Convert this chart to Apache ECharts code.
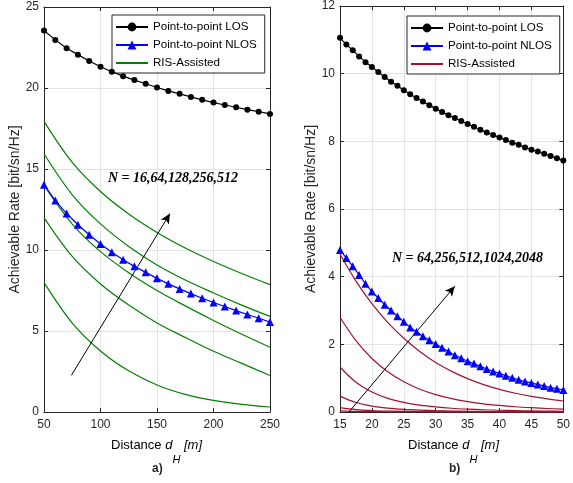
<!DOCTYPE html>
<html>
<head>
<meta charset="utf-8">
<script src="https://cdn.jsdelivr.net/npm/echarts@6/dist/echarts.min.js"></script>
<style>html,body{margin:0;padding:0;background:#fff}#c{width:573px;height:483px}</style>
</head>
<body>
<div id="c"></div>
<script>
// ---------- data: panel a) ----------
const aX = [50,60,70,80,90,100,110,120,130,140,150,160,170,180,190,200,210,220,230,240,250];
const aLOS = [23.55,22.97,22.45,22.06,21.67,21.31,21.0,20.73,20.49,20.26,20.03,19.82,19.64,19.45,19.27,19.10,18.95,18.81,18.66,18.54,18.40];
const aNLOS = [14.03,13.05,12.25,11.56,10.94,10.37,9.86,9.40,8.99,8.62,8.25,7.91,7.60,7.31,7.02,6.76,6.51,6.26,6.02,5.79,5.55];
const aRisX = [50,75,100,125,150,175,200,225,250];
const aRisN16  = [8.0,5.49,3.77,2.54,1.67,1.09,0.72,0.47,0.31];
const aRisN64  = [12.0,9.6,7.9,6.6,5.5,4.6,3.75,3.0,2.25];
const aRisN128 = [14.0,11.6,9.9,8.6,7.5,6.55,5.65,4.8,4.0];
const aRisN256 = [15.94,13.41,11.61,10.22,9.08,8.15,7.35,6.6,5.9];
const aRisN512 = [17.94,15.41,13.61,12.22,11.08,10.12,9.29,8.55,7.86];
const aXTicks = [50,250,50];   // min, max, interval
const aYTicks = [0,25,5];

// ---------- data: panel b) ----------
const bX = [15,16,17,18,19,20,21,22,23,24,25,26,27,28,29,30,31,32,33,34,35,36,37,38,39,40,41,42,43,44,45,46,47,48,49,50];
const bLOS = [11.06,10.86,10.69,10.51,10.34,10.20,10.05,9.90,9.76,9.64,9.51,9.39,9.28,9.18,9.07,8.96,8.87,8.77,8.69,8.60,8.51,8.43,8.34,8.26,8.19,8.11,8.04,7.96,7.90,7.82,7.75,7.70,7.63,7.57,7.50,7.43];
const bNLOS = [4.79,4.55,4.31,4.05,3.79,3.56,3.37,3.17,3.00,2.83,2.67,2.50,2.37,2.24,2.12,2.01,1.90,1.79,1.68,1.59,1.50,1.43,1.35,1.27,1.20,1.14,1.07,1.01,0.95,0.90,0.86,0.81,0.77,0.72,0.69,0.65];
const bRisX = [15,17.5,20,22.5,25,27.5,30,32.5,35,37.5,40,42.5,45,47.5,50];
const bRisN2048 = [4.67,3.87,3.20,2.64,2.18,1.79,1.46,1.20,0.985,0.810,0.669,0.554,0.462,0.386,0.325];
const bRisN1024 = [2.80,2.11,1.58,1.187,0.892,0.674,0.514,0.396,0.309,0.242,0.193,0.155,0.127,0.104,0.086];
const bRisN512  = [1.33,0.880,0.591,0.404,0.283,0.202,0.149,0.111,0.085,0.066,0.052,0.041,0.033,0.027,0.022];
const bRisN256  = [0.47,0.280,0.175,0.114,0.078,0.055,0.039,0.029,0.022,0.017,0.013,0.011,0.0085,0.0069,0.0057];
const bRisN128  = [0.13,0.073,0.045,0.029,0.019,0.0135,0.0097,0.0071,0.0054,0.0042,0.0033,0.0026,0.0021,0.0017,0.0014];
const bRisN64   = [0.035,0.019,0.0116,0.0074,0.005,0.0035,0.0025,0.0019,0.0014,0.0011,0.0008,0.0007,0.0005,0.0004,0.0004];
const bXTicks = [15,50,5];
const bYTicks = [0,12,2];

const zip = (xs, ys) => xs.map((x, i) => [x, ys[i]]);
const FONT = 'Arial, "Liberation Sans", Helvetica, sans-serif';
const AX = '#262626';
const GRIDC = '#e3e3e3';

function xAxes(gridIndex, t) {
  const base = {
    type: 'value', gridIndex, min: t[0], max: t[1], interval: t[2],
    axisLine: {show: true, onZero: false, lineStyle: {color: AX, width: 1}},
    axisTick: {show: true, inside: true, length: 4, lineStyle: {color: AX}},
  };
  return [
    Object.assign({}, base, {position: 'bottom',
      axisLabel: {color: AX, fontSize: 12, fontFamily: FONT, margin: 7},
      splitLine: {show: true, lineStyle: {color: GRIDC, width: 1}}}),
    Object.assign({}, base, {position: 'top', axisLabel: {show: false}, splitLine: {show: false}})
  ];
}
function yAxes(gridIndex, t) {
  const base = {
    type: 'value', gridIndex, min: t[0], max: t[1], interval: t[2],
    axisLine: {show: true, onZero: false, lineStyle: {color: AX, width: 1}},
    axisTick: {show: true, inside: true, length: 4, lineStyle: {color: AX}},
  };
  return [
    Object.assign({}, base, {position: 'left',
      name: 'Achievable Rate [bit/sn/Hz]', nameLocation: 'middle', nameGap: 21,
      nameTextStyle: {color: AX, fontSize: 14, fontFamily: FONT},
      axisLabel: {color: AX, fontSize: 12, fontFamily: FONT, margin: 5},
      splitLine: {show: true, lineStyle: {color: GRIDC, width: 1}}}),
    Object.assign({}, base, {position: 'right', axisLabel: {show: false}, splitLine: {show: false}})
  ];
}

function risSeries(name, xi, yi, xs, ys, color) {
  return {name, type: 'line', xAxisIndex: xi, yAxisIndex: yi, data: zip(xs, ys),
    symbol: 'none', smooth: 0.35, color,
    lineStyle: {color, width: 1.2}, z: 3};
}

const GREEN = '#008000', RED = '#a2142f', BLUE = '#0000ff';

const series = [
  {name: 'Point-to-point LOS', type: 'line', xAxisIndex: 0, yAxisIndex: 0, data: zip(aX, aLOS),
   symbol: 'circle', symbolSize: 6, color: '#000', lineStyle: {color: '#000', width: 1.2}, clip: false, z: 5},
  {name: 'Point-to-point NLOS', type: 'line', xAxisIndex: 0, yAxisIndex: 0, data: zip(aX, aNLOS),
   symbol: 'triangle', symbolSize: 8, color: BLUE, lineStyle: {color: BLUE, width: 1.2}, clip: false, z: 5,
   markLine: {silent: true, symbol: ['none', 'arrow'], symbolSize: [7, 10], label: {show: false},
     lineStyle: {color: '#000', width: 1, type: 'solid'},
     data: [[{coord: [74.2, 2.26]}, {coord: [161.5, 12.25]}]]}},
  risSeries('RIS-Assisted', 0, 0, aRisX, aRisN16, GREEN),
  risSeries('RIS-Assisted', 0, 0, aRisX, aRisN64, GREEN),
  risSeries('RIS-Assisted', 0, 0, aRisX, aRisN128, GREEN),
  risSeries('RIS-Assisted', 0, 0, aRisX, aRisN256, GREEN),
  risSeries('RIS-Assisted', 0, 0, aRisX, aRisN512, GREEN),

  {name: 'Point-to-point LOS (b)', type: 'line', xAxisIndex: 2, yAxisIndex: 2, data: zip(bX, bLOS),
   symbol: 'circle', symbolSize: 6, color: '#000', lineStyle: {color: '#000', width: 1.2}, clip: false, z: 5},
  {name: 'Point-to-point NLOS (b)', type: 'line', xAxisIndex: 2, yAxisIndex: 2, data: zip(bX, bNLOS),
   symbol: 'triangle', symbolSize: 8, color: BLUE, lineStyle: {color: BLUE, width: 1.2}, clip: false, z: 5,
   markLine: {silent: true, symbol: ['none', 'arrow'], symbolSize: [7, 10], label: {show: false},
     lineStyle: {color: '#000', width: 1, type: 'solid'},
     data: [[{coord: [16.4, 0.0]}, {coord: [33.0, 3.72]}]]}},
  risSeries('RIS-Assisted (b)', 2, 2, bRisX, bRisN2048, RED),
  risSeries('RIS-Assisted (b)', 2, 2, bRisX, bRisN1024, RED),
  risSeries('RIS-Assisted (b)', 2, 2, bRisX, bRisN512, RED),
  risSeries('RIS-Assisted (b)', 2, 2, bRisX, bRisN256, RED),
  risSeries('RIS-Assisted (b)', 2, 2, bRisX, bRisN128, RED),
  risSeries('RIS-Assisted (b)', 2, 2, bRisX, bRisN64, RED),
];

const legendBase = {
  orient: 'vertical', backgroundColor: '#fff', borderColor: AX, borderWidth: 1,
  padding: [6, 8, 4, 3], itemGap: 6, itemWidth: 32, itemHeight: 11, selectedMode: false,
  textStyle: {fontSize: 11.6, color: '#000', fontFamily: FONT},
  formatter: n => n.replace(' (b)', '')
};

const xNameRich = {
  n: {fontSize: 13, fontFamily: FONT, color: AX},
  i: {fontSize: 13, fontFamily: FONT, fontStyle: 'italic', color: AX},
  s: {fontSize: 11, fontFamily: FONT, fontStyle: 'italic', color: AX, padding: [28, 0, 0, 0]}
};
function xName(x) {
  return {type: 'text', left: x, top: 439, style: {
    text: '{n|Distance }{i|d}{s|H}{i| [m]}', rich: xNameRich, font: '13px ' + FONT}};
}

const option = {
  backgroundColor: '#fff',
  animation: false,
  grid: [
    {left: 44, top: 7, width: 226, height: 405},
    {left: 340, top: 5, width: 226, height: 407}
  ],
  xAxis: [...xAxes(0, aXTicks), ...xAxes(1, bXTicks)],
  yAxis: [...yAxes(0, aYTicks), ...yAxes(1, bYTicks)],
  legend: [
    Object.assign({}, legendBase, {left: 112, top: 15, data: ['Point-to-point LOS', 'Point-to-point NLOS',
      {name: 'RIS-Assisted', itemStyle: {opacity: 0}}]}),
    Object.assign({}, legendBase, {left: 407, top: 16, data: ['Point-to-point LOS (b)', 'Point-to-point NLOS (b)',
      {name: 'RIS-Assisted (b)', itemStyle: {opacity: 0}}]})
  ],
  graphic: [
    {type: 'text', left: 108, top: 171, z: 10, style: {text: 'N = 16,64,128,256,512',
      font: 'italic bold 14px "Liberation Serif", "Times New Roman", serif', fill: '#000'}},
    {type: 'text', left: 392, top: 251, z: 10, style: {text: 'N = 64,256,512,1024,2048',
      font: 'italic bold 14px "Liberation Serif", "Times New Roman", serif', fill: '#000'}},
    xName(111), xName(408),
    {type: 'text', left: 152, top: 463, style: {text: 'a)', font: 'bold 12px ' + FONT, fill: '#262626'}},
    {type: 'text', left: 449, top: 463, style: {text: 'b)', font: 'bold 12px ' + FONT, fill: '#262626'}}
  ],
  series
};

const chart = echarts.init(document.getElementById('c'), null, {renderer: 'canvas'});
chart.setOption(option);
</script>
</body>
</html>
